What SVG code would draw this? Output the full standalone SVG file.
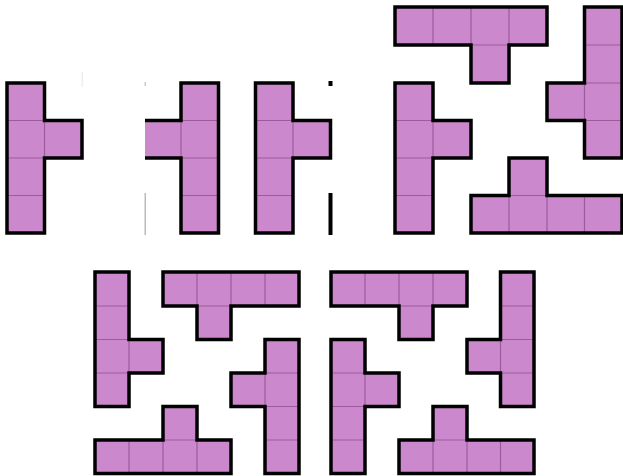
<svg xmlns="http://www.w3.org/2000/svg" width="623" height="476" viewBox="0 0 623 476">
<defs>
<style>
.f{fill:#cc88cc;stroke:none}
.g{stroke:#9a5c9a;stroke-width:1.2;fill:none}
.o{fill:none;stroke:#000;stroke-width:3.5;stroke-linejoin:miter}
</style>
<clipPath id="clip2"><rect x="145" y="0" width="200" height="476"/></clipPath>
</defs>
<rect width="623" height="476" fill="#fff"/>

<!-- panel 1 -->
<g id="p1">
<path class="f" d="M7,83H44.5V120.5H82V158H44.5V233H7Z"/>
<path class="g" d="M7,120.5H44.5M7,158H44.5M7,195.5H44.5M44.5,120.5V158"/>
<path class="o" d="M7,83H44.5V120.5H82V158H44.5V233H7Z"/>
</g>

<!-- panel 2 -->
<g id="p2" clip-path="url(#clip2)">
<path class="f" d="M181,83H218.5V233H181V158H143V120.5H181Z"/>
<path class="g" d="M181,120.5H218.5M181,158H218.5M181,195.5H218.5M181,120.5V158"/>
<path class="o" d="M181,83H218.5V233H181V158H143V120.5H181Z"/>
</g>

<!-- panel 3 -->
<g id="p3">
<path class="f" d="M255.5,83H293V120.5H330.5V158H293V233H255.5Z"/>
<path class="g" d="M255.5,120.5H293M255.5,158H293M255.5,195.5H293M293,120.5V158"/>
<path class="o" d="M255.5,83H293V120.5H330.5V158H293V233H255.5Z"/>
</g>

<!-- artifacts -->
<g id="artifacts">
<rect x="328.5" y="193" width="4" height="42" fill="#000"/>
<rect x="328.5" y="81" width="4" height="5" fill="#000"/>
<rect x="144.5" y="193" width="1.5" height="42" fill="#bbb"/>
<rect x="144.5" y="82" width="1.5" height="4" fill="#ccc"/>
<rect x="81.5" y="72" width="1.5" height="15" fill="#eee"/>
</g>

<!-- top right panel -->
<g id="a">
<path class="f" d="M395,7H547V45H509V83H471V45H395Z"/>
<path class="g" d="M433,7V45M471,7V45M509,7V45M471,45H509"/>
<path class="o" d="M395,7H547V45H509V83H471V45H395Z"/>
</g>
<g id="b">
<path class="f" d="M584.5,7H622V158H584.5V120.5H547V83H584.5Z"/>
<path class="g" d="M584.5,45H622M584.5,83H622M584.5,120.5H622M584.5,83V120.5"/>
<path class="o" d="M584.5,7H622V158H584.5V120.5H547V83H584.5Z"/>
</g>
<g id="c">
<path class="f" d="M395,83H433V120.5H471V158H433V233H395Z"/>
<path class="g" d="M395,120.5H433M395,158H433M395,195.5H433M433,120.5V158"/>
<path class="o" d="M395,83H433V120.5H471V158H433V233H395Z"/>
</g>
<g id="d">
<path class="f" d="M471,195.5H509V158H547V195.5H622V233H471Z"/>
<path class="g" d="M509,195.5V233M547,195.5V233M584.5,195.5V233M509,195.5H547"/>
<path class="o" d="M471,195.5H509V158H547V195.5H622V233H471Z"/>
</g>

<!-- bottom left panel -->
<g id="e">
<path class="f" d="M95,272H129V339.5H163V373H129V406.5H95Z"/>
<path class="g" d="M95,306H129M95,339.5H129M95,373H129M129,339.5V373"/>
<path class="o" d="M95,272H129V339.5H163V373H129V406.5H95Z"/>
</g>
<g id="f">
<path class="f" d="M163,272H299V306H231V339.5H197V306H163Z"/>
<path class="g" d="M197,272V306M231,272V306M265,272V306M197,306H231"/>
<path class="o" d="M163,272H299V306H231V339.5H197V306H163Z"/>
</g>
<g id="g">
<path class="f" d="M265,339.5H299V473.5H265V406.5H231V373H265Z"/>
<path class="g" d="M265,373H299M265,406.5H299M265,440H299M265,373V406.5"/>
<path class="o" d="M265,339.5H299V473.5H265V406.5H231V373H265Z"/>
</g>
<g id="h">
<path class="f" d="M95,440H163V406.5H197V440H231V473.5H95Z"/>
<path class="g" d="M129,440V473.5M163,440V473.5M197,440V473.5M163,440H197"/>
<path class="o" d="M95,440H163V406.5H197V440H231V473.5H95Z"/>
</g>

<!-- bottom right panel -->
<g id="i">
<path class="f" d="M331,272H467V306H433V339.5H399V306H331Z"/>
<path class="g" d="M365,272V306M399,272V306M433,272V306M399,306H433"/>
<path class="o" d="M331,272H467V306H433V339.5H399V306H331Z"/>
</g>
<g id="j">
<path class="f" d="M500.5,272H534V406.5H500.5V373H467V339.5H500.5Z"/>
<path class="g" d="M500.5,306H534M500.5,339.5H534M500.5,373H534M500.5,339.5V373"/>
<path class="o" d="M500.5,272H534V406.5H500.5V373H467V339.5H500.5Z"/>
</g>
<g id="k">
<path class="f" d="M331,339.5H365V373H399V406.5H365V473.5H331Z"/>
<path class="g" d="M331,373H365M331,406.5H365M331,440H365M365,373V406.5"/>
<path class="o" d="M331,339.5H365V373H399V406.5H365V473.5H331Z"/>
</g>
<g id="l">
<path class="f" d="M399,440H433V406.5H467V440H534V473.5H399Z"/>
<path class="g" d="M433,440V473.5M467,440V473.5M500.5,440V473.5M433,440H467"/>
<path class="o" d="M399,440H433V406.5H467V440H534V473.5H399Z"/>
</g>

<g id="connectors"/>
</svg>
